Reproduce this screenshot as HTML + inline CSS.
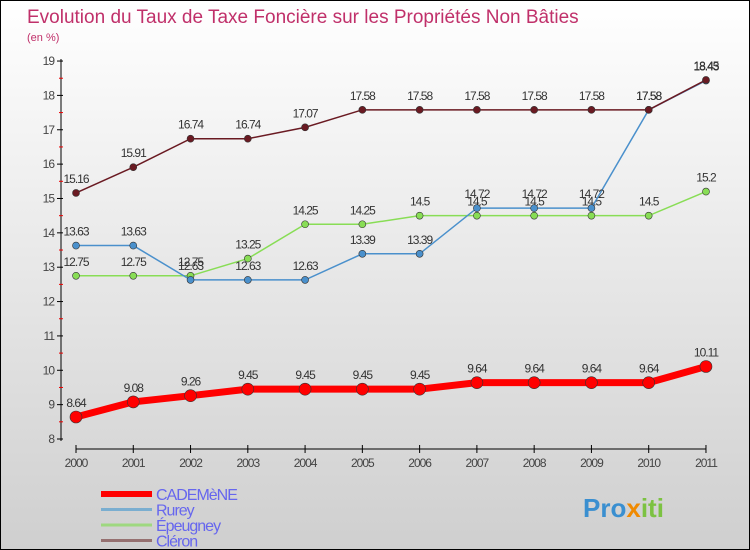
<!DOCTYPE html>
<html><head><meta charset="utf-8"><style>
body{margin:0}
#c{width:750px;height:550px;position:relative;background:linear-gradient(#fff,#cfcfcf);border:1px solid #000;box-sizing:border-box;overflow:hidden;font-family:"Liberation Sans",sans-serif}
text{font-family:"Liberation Sans",sans-serif}
</style></head><body>
<div id="c">
<svg id="s" width="750" height="550">
<text x="26" y="22" font-size="19" fill="#c0306a">Evolution du Taux de Taxe Foncière sur les Propriétés Non Bâties</text>
<text x="26" y="40" font-size="11" fill="#c0306a">(en %)</text>
</svg>
</div>
<script>
const years=["2000","2001","2002","2003","2004","2005","2006","2007","2008","2009","2010","2011"];
const cademene=[8.64,9.08,9.26,9.45,9.45,9.45,9.45,9.64,9.64,9.64,9.64,10.11];
const rurey=[13.63,13.63,12.63,12.63,12.63,13.39,13.39,14.72,14.72,14.72,17.58,18.43];
const epeugney=[12.75,12.75,12.75,13.25,14.25,14.25,14.5,14.5,14.5,14.5,14.5,15.2];
const cleron=[15.16,15.91,16.74,16.74,17.07,17.58,17.58,17.58,17.58,17.58,17.58,18.45];
const yTicks=[8,9,10,11,12,13,14,15,16,17,18,19];
const NS="http://www.w3.org/2000/svg",s=document.getElementById('s');
const X=i=>75+i*57.27, Y=v=>438-(v-8)*34.36;
function mk(t,a,p){const e=document.createElementNS(NS,t);for(const k in a)e.setAttribute(k,a[k]);(p||s).appendChild(e);return e;}
// axes
let ax=mk('line',{x1:60,y1:58,x2:60,y2:440,stroke:'#000'});


yTicks.forEach(v=>{mk('line',{x1:56,x2:62,y1:Y(v),y2:Y(v),stroke:'#000'});
 if(v<19)mk('line',{x1:58,x2:62,y1:Y(v+0.5),y2:Y(v+0.5),stroke:'#e00'});
 const t=mk('text',{x:53,y:Y(v)+4,'font-size':12,'text-anchor':'end',fill:'#444','letter-spacing':'-1'});t.textContent=v;
 
 });
let xa=mk('line',{x1:75,y1:448,x2:705,y2:448,stroke:'#000'});


years.forEach((y,i)=>{mk('line',{x1:X(i),x2:X(i),y1:444,y2:452,stroke:'#000'});
 const t=mk('text',{x:X(i),y:466,'font-size':12,'text-anchor':'middle',fill:'#444','letter-spacing':'-1'});t.textContent=y;
 
 });
function series(d,col,w,r,name){
 const g=mk('g',{});
 
 
 mk('polyline',{points:d.map((v,i)=>X(i)+','+Y(v)).join(' '),fill:'none',stroke:col,'stroke-width':w},g);
 d.forEach((v,i)=>{const c=mk('circle',{cx:X(i),cy:Y(v),r:r,fill:col,stroke:'#333','stroke-width':0.6},g);
  
  
  const t=mk('text',{x:X(i),y:Y(v)-10,'font-size':12,'text-anchor':'middle',fill:'#333','letter-spacing':'-1'},g);t.textContent=v;
  
  });
}
series(epeugney,'#88dd55',1.5,3.5,'epeugney');
series(rurey,'#4a90cc',1.5,3.5,'rurey');
series(cleron,'#6a1a22',1.5,3.5,'cleron');
series(cademene,'#ff0000',7,6,'cademene');
// legend
const leg=[["CADEMèNE","#ff0000",6],["Rurey","#7aaed0",3],["Épeugney","#9ed880",3],["Cléron","#957070",3]];
leg.forEach((l,i)=>{const y=493+i*15.5;
 const ln=mk('line',{x1:100,x2:151,y1:y,y2:y,stroke:l[1],'stroke-width':l[2]});
 
 
 const t=mk('text',{x:155,y:y+6,'font-size':16,fill:'#6666ee','letter-spacing':'-1'});t.textContent=l[0];
 
 });
const lg=mk('text',{x:582,y:516,'font-size':26,'font-weight':'bold',fill:'#3a8fd0'});
lg.innerHTML='<tspan fill="#3a8fd0">Pro</tspan><tspan fill="#f08a00">x</tspan><tspan fill="#7cc242">iti</tspan>';


</script>
</body></html>
